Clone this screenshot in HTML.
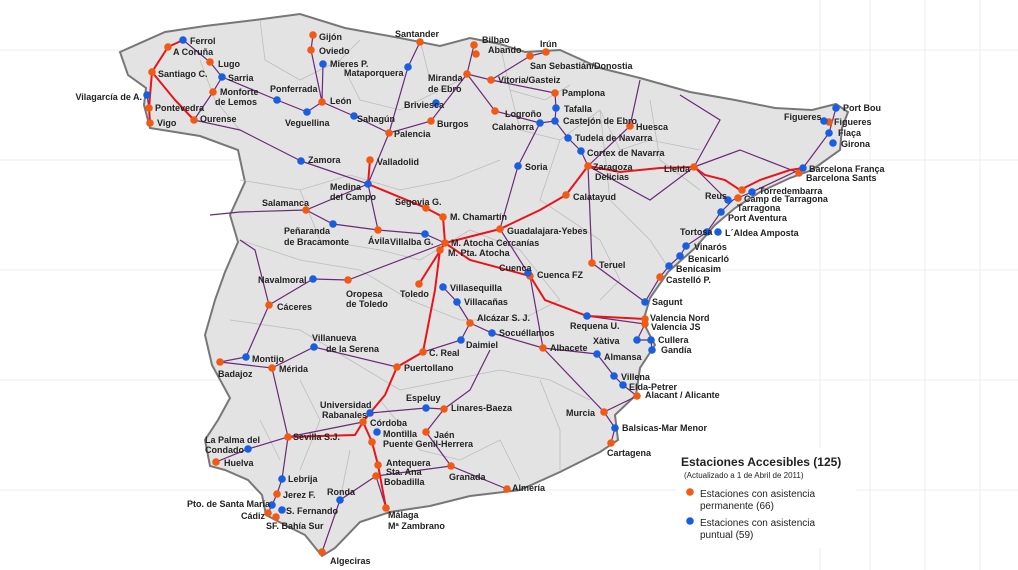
<!DOCTYPE html>
<html><head><meta charset="utf-8">
<style>
html,body{margin:0;padding:0;background:#fff;}
svg{display:block;}
text{font-family:"Liberation Sans",Arial,sans-serif;font-size:9px;font-weight:bold;fill:#222;}
.o{fill:#f25a14;}
.b{fill:#1a5ee0;}
.r{fill:none;stroke:#e8141c;stroke-width:2;}
.p{fill:none;stroke:#6a2a78;stroke-width:1.2;}
.g{fill:none;stroke:#bdbdbd;stroke-width:0.8;}
</style></head><body>
<svg width="1018" height="570" viewBox="0 0 1018 570" xmlns="http://www.w3.org/2000/svg">
<rect width="1018" height="570" fill="#fff"/>
<g stroke="#ececec" stroke-width="1">
<line x1="870" y1="0" x2="870" y2="570"/><line x1="925" y1="0" x2="925" y2="570"/><line x1="980" y1="0" x2="980" y2="570"/>
<line x1="820" y1="0" x2="820" y2="570"/>
<line x1="0" y1="50" x2="1018" y2="50"/><line x1="0" y1="160" x2="1018" y2="160"/><line x1="0" y1="270" x2="1018" y2="270"/><line x1="0" y1="380" x2="1018" y2="380"/><line x1="0" y1="490" x2="1018" y2="490"/>
</g>
<path d="M120,52 L165,32 L205,26 L255,20 L300,14 L345,28 L400,38 L440,46 L470,38 L500,44 L525,52 L560,50 L600,68 L640,78 L690,92 L735,100 L775,108 L812,110 L836,104 L848,112 L842,128 L840,150 L812,170 L790,178 L760,192 L735,208 L715,225 L695,248 L668,272 L650,298 L643,322 L655,345 L640,368 L636,395 L615,415 L618,440 L600,452 L560,472 L520,490 L470,496 L430,506 L390,512 L360,522 L335,548 L322,556 L305,535 L285,525 L266,515 L262,495 L248,480 L225,470 L210,466 L205,440 L218,420 L230,398 L212,365 L205,335 L215,300 L225,272 L238,242 L230,215 L245,182 L238,150 L200,136 L150,128 L144,105 L146,88 L128,75 Z" fill="#e3e3e3" stroke="#777" stroke-width="2"/>
<g class="g">
<path d="M200,60 L215,100 L240,130 M260,20 L265,60 L300,80 L340,60 L360,40 M340,60 L360,100 L400,110 L440,90 L470,75 M420,40 L430,80 M500,44 L510,90 L545,100 L570,85 M510,90 L520,130 L560,140 L600,110 L620,150 L650,140 L700,150 M650,100 L660,160 L700,190 M600,110 L610,200 L650,240 L670,270 M560,140 L540,200 L600,240 L620,280 L600,300 M240,180 L300,190 L350,175 L400,190 L450,180 L500,160 M300,190 L320,240 L380,250 L420,260 M240,240 L300,260 L360,270 L410,300 L460,320 L520,320 L560,300 M230,320 L300,330 L350,360 L400,390 L450,380 L500,370 L550,380 L590,400 M420,260 L470,230 L520,250 L560,300 M300,380 L320,420 L300,470 M380,400 L420,450 L460,460 L500,440 L520,480 M540,380 L560,430 L560,470 M350,450 L340,500 M260,420 L280,460"/>
</g>
<g class="p">
<path d="M183,40 L210,62 L222,77 L213,92 L194,120"/>
<path d="M222,77 L277,100 L307,112 L322,102 L354,116 L389,133 L431,121 L467,74 L474,45"/>
<path d="M322,102 L311,50 L313,35 M322,102 L323,64"/>
<path d="M408,67 L389,133 M420,42 L408,67"/>
<path d="M467,74 L491,80 L530,56 L546,52 M491,80 L555,93 L556,108 L555,121 L540,123 L495,111 L467,74"/>
<path d="M555,121 L568,138 L581,151 L588,166 M588,166 L630,126 M588,166 L650,200 L694,167 L726,199"/>
<path d="M518,166 L540,123 M518,166 L500,229"/>
<path d="M588,166 L592,263 L645,302 L660,277 L669,266 L680,256 L686,246 L707,232 L721,212 L733,200 L752,192 L803,168 L829,133 L836,108"/>
<path d="M694,167 L740,150 L799,173 M694,167 L720,120 L680,95 M630,126 L640,80"/>
<path d="M301,161 L368,184 L389,133 M368,184 L306,210 L240,212 M368,184 L378,230 L425,234 L445,243 M368,184 L426,208"/>
<path d="M306,210 L333,224 L378,230"/>
<path d="M445,243 L348,280 L313,279 L269,305 L246,357 L220,362 M269,305 L255,250 L240,240"/>
<path d="M220,362 L272,368 L314,347 L397,367 L423,352 L461,340 L470,323 L492,333 L543,348 L597,354 L614,376 L623,385 L637,396 L604,412 L615,428 L611,443"/>
<path d="M543,348 L604,412 M543,348 L530,276 L500,229"/>
<path d="M587,316 L645,324 L637,340 L651,340 L652,350"/>
<path d="M272,368 L288,437 L248,449 L216,462 M288,437 L282,479 L277,494 L272,505 L268,513"/>
<path d="M370,413 L426,408 L444,409 L470,390 L490,350 M444,409 L426,432 L451,466 L507,489 M451,466 L376,476"/>
<path d="M363,422 L288,437 M376,476 L340,500 L322,552 M376,476 L386,508"/>
<path d="M443,287 L457,302 L470,323"/>
<path d="M194,120 L240,130 L301,161 M150,123 L149,108 L147,95"/>
<path d="M210,215 L240,212"/>
</g>
<g class="r">
<path d="M183,40 L168,47 L152,72 L149,108 L150,123"/>
<path d="M152,72 L175,100 L194,120"/>
<path d="M370,160 L368,184 L426,208 L443,217 L445,243"/>
<path d="M445,243 L500,229 L540,210 L566,195 L588,166 L620,172 L660,168 L694,167 L705,175 L725,180 L740,190 L760,180 L790,170 L803,168"/>
<path d="M445,243 L440,250 L435,290 L423,352 L397,367 L385,395 L370,413 L363,422 L355,435 L288,437"/>
<path d="M363,422 L372,442 L378,465 L386,508"/>
<path d="M445,243 L419,284"/>
<path d="M445,243 L470,260 L530,276 L545,300 L587,316 L645,319"/>
</g>
<g class="o">
<circle cx="168" cy="47" r="3.8"/><circle cx="210" cy="62" r="3.8"/><circle cx="152" cy="72" r="3.8"/><circle cx="149" cy="108" r="3.8"/><circle cx="213" cy="92" r="3.8"/><circle cx="150" cy="123" r="3.8"/><circle cx="194" cy="120" r="3.8"/>
<circle cx="313" cy="35" r="3.8"/><circle cx="311" cy="50" r="3.8"/><circle cx="322" cy="102" r="3.8"/><circle cx="420" cy="42" r="3.8"/><circle cx="474" cy="45" r="3.8"/><circle cx="476" cy="54" r="3.8"/><circle cx="546" cy="52" r="3.8"/><circle cx="530" cy="56" r="3.8"/>
<circle cx="467" cy="74" r="3.8"/><circle cx="491" cy="80" r="3.8"/><circle cx="495" cy="111" r="3.8"/><circle cx="555" cy="93" r="3.8"/><circle cx="389" cy="133" r="3.8"/><circle cx="431" cy="121" r="3.8"/><circle cx="630" cy="126" r="3.8"/><circle cx="588" cy="166" r="3.8"/><circle cx="694" cy="167" r="3.8"/><circle cx="566" cy="195" r="3.8"/>
<circle cx="370" cy="160" r="3.8"/><circle cx="306" cy="210" r="3.8"/><circle cx="426" cy="208" r="3.8"/><circle cx="443" cy="217" r="3.8"/><circle cx="378" cy="230" r="3.8"/><circle cx="445" cy="243" r="3.8"/><circle cx="440" cy="250" r="3.8"/><circle cx="500" cy="229" r="3.8"/>
<circle cx="348" cy="280" r="3.8"/><circle cx="419" cy="284" r="3.8"/><circle cx="530" cy="276" r="3.8"/><circle cx="592" cy="263" r="3.8"/><circle cx="269" cy="305" r="3.8"/><circle cx="470" cy="323" r="3.8"/><circle cx="645" cy="319" r="3.8"/><circle cx="645" cy="324" r="3.8"/><circle cx="543" cy="348" r="3.8"/>
<circle cx="423" cy="352" r="3.8"/><circle cx="220" cy="362" r="3.8"/><circle cx="272" cy="368" r="3.8"/><circle cx="397" cy="367" r="3.8"/><circle cx="637" cy="396" r="3.8"/>
<circle cx="660" cy="277" r="3.8"/><circle cx="742" cy="190" r="3.8"/><circle cx="738" cy="198" r="3.8"/><circle cx="799" cy="173" r="3.8"/><circle cx="829" cy="122" r="3.8"/>
<circle cx="363" cy="422" r="3.8"/><circle cx="372" cy="442" r="3.8"/><circle cx="444" cy="409" r="3.8"/><circle cx="426" cy="432" r="3.8"/><circle cx="288" cy="437" r="3.8"/><circle cx="216" cy="462" r="3.8"/><circle cx="378" cy="465" r="3.8"/><circle cx="376" cy="476" r="3.8"/><circle cx="451" cy="466" r="3.8"/><circle cx="507" cy="489" r="3.8"/><circle cx="604" cy="412" r="3.8"/><circle cx="611" cy="443" r="3.8"/>
<circle cx="277" cy="494" r="3.8"/><circle cx="268" cy="513" r="3.8"/><circle cx="276" cy="517" r="3.8"/><circle cx="386" cy="508" r="3.8"/><circle cx="322" cy="552" r="3.8"/>
</g>
<g class="b">
<circle cx="183" cy="40" r="3.8"/><circle cx="222" cy="77" r="3.8"/><circle cx="147" cy="95" r="3.8"/><circle cx="323" cy="64" r="3.8"/><circle cx="277" cy="100" r="3.8"/><circle cx="307" cy="112" r="3.8"/><circle cx="354" cy="116" r="3.8"/><circle cx="408" cy="67" r="3.8"/>
<circle cx="436" cy="103" r="3.8"/><circle cx="556" cy="108" r="3.8"/><circle cx="555" cy="121" r="3.8"/><circle cx="540" cy="123" r="3.8"/><circle cx="568" cy="138" r="3.8"/><circle cx="581" cy="151" r="3.8"/><circle cx="518" cy="166" r="3.8"/>
<circle cx="301" cy="161" r="3.8"/><circle cx="368" cy="184" r="3.8"/><circle cx="333" cy="224" r="3.8"/><circle cx="425" cy="234" r="3.8"/><circle cx="313" cy="279" r="3.8"/><circle cx="443" cy="287" r="3.8"/><circle cx="457" cy="302" r="3.8"/><circle cx="528" cy="273" r="3.8"/>
<circle cx="314" cy="347" r="3.8"/><circle cx="492" cy="333" r="3.8"/><circle cx="587" cy="316" r="3.8"/><circle cx="645" cy="302" r="3.8"/><circle cx="461" cy="340" r="3.8"/><circle cx="637" cy="340" r="3.8"/><circle cx="651" cy="340" r="3.8"/><circle cx="652" cy="350" r="3.8"/><circle cx="597" cy="354" r="3.8"/><circle cx="246" cy="357" r="3.8"/><circle cx="614" cy="376" r="3.8"/><circle cx="623" cy="385" r="3.8"/>
<circle cx="707" cy="232" r="3.8"/><circle cx="718" cy="232" r="3.8"/><circle cx="686" cy="246" r="3.8"/><circle cx="680" cy="256" r="3.8"/><circle cx="669" cy="266" r="3.8"/><circle cx="721" cy="212" r="3.8"/><circle cx="752" cy="192" r="3.8"/><circle cx="728" cy="200" r="3.8"/><circle cx="803" cy="168" r="3.8"/>
<circle cx="836" cy="108" r="3.8"/><circle cx="824" cy="121" r="3.8"/><circle cx="829" cy="133" r="3.8"/><circle cx="833" cy="143" r="3.8"/>
<circle cx="370" cy="413" r="3.8"/><circle cx="377" cy="432" r="3.8"/><circle cx="426" cy="408" r="3.8"/><circle cx="248" cy="449" r="3.8"/><circle cx="615" cy="428" r="3.8"/><circle cx="282" cy="479" r="3.8"/><circle cx="340" cy="500" r="3.8"/><circle cx="272" cy="505" r="3.8"/><circle cx="282" cy="510" r="3.8"/>
</g>
<g>
<text x="190" y="44">Ferrol</text><text x="173" y="55">A Coruña</text><text x="218" y="67">Lugo</text><text x="158" y="77">Santiago C.</text><text x="228" y="81">Sarria</text>
<text x="142" y="100" text-anchor="end">Vilagarcía de A.</text><text x="155" y="111">Pontevedra</text><text x="220" y="95">Monforte</text><text x="215" y="105">de Lemos</text><text x="157" y="126">Vigo</text><text x="200" y="122">Ourense</text>
<text x="319" y="40">Gijón</text><text x="319" y="54">Oviedo</text><text x="330" y="67">Mieres P.</text><text x="270" y="92">Ponferrada</text><text x="330" y="104">León</text><text x="285" y="126">Veguellina</text><text x="357" y="122">Sahagún</text>
<text x="395" y="37">Santander</text><text x="344" y="76">Mataporquera</text><text x="482" y="43">Bilbao</text><text x="488" y="53">Abando</text><text x="540" y="47">Irún</text><text x="530" y="69">San Sebastián/Donostia</text>
<text x="428" y="81">Miranda</text><text x="428" y="92">de Ebro</text><text x="498" y="83">Vitoria/Gasteiz</text><text x="404" y="108">Briviesca</text><text x="505" y="117">Logroño</text><text x="562" y="96">Pamplona</text><text x="564" y="112">Tafalla</text><text x="563" y="124">Castejón de Ebro</text><text x="492" y="130">Calahorra</text>
<text x="394" y="137">Palencia</text><text x="437" y="127">Burgos</text><text x="575" y="141">Tudela de Navarra</text><text x="636" y="130">Huesca</text><text x="587" y="156">Cortex de Navarra</text><text x="593" y="170">Zaragoza</text><text x="595" y="180">Delicias</text><text x="664" y="172">Lleida</text><text x="525" y="170">Soria</text><text x="573" y="200">Calatayud</text>
<text x="308" y="163">Zamora</text><text x="377" y="165">Valladolid</text><text x="330" y="190">Medina</text><text x="330" y="200">del Campo</text><text x="262" y="206">Salamanca</text><text x="284" y="234">Peñaranda</text><text x="284" y="245">de Bracamonte</text>
<text x="395" y="205">Segovia G.</text><text x="450" y="220">M. Chamartín</text><text x="368" y="244">Ávila</text><text x="390" y="245">Villalba G.</text><text x="451" y="246">M. Atocha Cercanías</text><text x="448" y="256">M. Pta. Atocha</text><text x="507" y="234">Guadalajara-Yebes</text>
<text x="258" y="283">Navalmoral</text><text x="346" y="297">Oropesa</text><text x="346" y="307">de Toledo</text><text x="400" y="297">Toledo</text><text x="450" y="291">Villasequilla</text><text x="464" y="305">Villacañas</text><text x="499" y="271">Cuenca</text><text x="537" y="278">Cuenca FZ</text><text x="599" y="268">Teruel</text>
<text x="277" y="310">Cáceres</text><text x="312" y="341">Villanueva</text><text x="326" y="352">de la Serena</text><text x="477" y="321">Alcázar S. J.</text><text x="499" y="336">Socuéllamos</text><text x="570" y="329">Requena U.</text><text x="650" y="321">Valencia Nord</text><text x="651" y="330">Valencia JS</text><text x="652" y="305">Sagunt</text>
<text x="466" y="348">Daimiel</text><text x="550" y="351">Albacete</text><text x="593" y="344">Xàtiva</text><text x="658" y="343">Cullera</text><text x="661" y="353">Gandía</text><text x="604" y="360">Almansa</text><text x="429" y="356">C. Real</text><text x="252" y="362">Montijo</text><text x="218" y="377">Badajoz</text><text x="279" y="372">Mérida</text><text x="404" y="371">Puertollano</text>
<text x="621" y="380">Villena</text><text x="629" y="390">Elda-Petrer</text><text x="645" y="398">Alacant / Alicante</text>
<text x="680" y="235">Tortosa</text><text x="725" y="236">L´Aldea Amposta</text><text x="694" y="250">Vinarós</text><text x="688" y="262">Benicarló</text><text x="676" y="272">Benicasim</text><text x="666" y="283">Castelló P.</text><text x="728" y="221">Port Aventura</text><text x="737" y="211">Tarragona</text><text x="744" y="202">Camp de Tarragona</text><text x="759" y="194">Torredembarra</text><text x="705" y="199">Reus</text>
<text x="809" y="172">Barcelona França</text><text x="806" y="181">Barcelona Sants</text><text x="784" y="120">Figueres</text><text x="834" y="125">Figueres</text><text x="843" y="111">Port Bou</text><text x="838" y="136">Flaça</text><text x="841" y="147">Girona</text>
<text x="320" y="408">Universidad</text><text x="322" y="418">Rabanales</text><text x="370" y="426">Córdoba</text><text x="383" y="437">Montilla</text><text x="383" y="447">Puente Genil-Herrera</text><text x="406" y="401">Espeluy</text><text x="451" y="411">Linares-Baeza</text><text x="434" y="438">Jaén</text>
<text x="293" y="440">Sevilla S.J.</text><text x="205" y="443">La Palma del</text><text x="205" y="453">Condado</text><text x="224" y="466">Huelva</text><text x="386" y="466">Antequera</text><text x="386" y="475">Sta. Ana</text><text x="384" y="485">Bobadilla</text><text x="449" y="480">Granada</text><text x="512" y="491">Almería</text>
<text x="566" y="416">Murcia</text><text x="622" y="431">Balsicas-Mar Menor</text><text x="607" y="456">Cartagena</text>
<text x="288" y="482">Lebrija</text><text x="283" y="498">Jerez F.</text><text x="327" y="495">Ronda</text><text x="187" y="507">Pto. de Santa María</text><text x="286" y="514">S. Fernando</text><text x="241" y="519">Cádiz</text><text x="266" y="529">SF. Bahía Sur</text><text x="388" y="518">Málaga</text><text x="388" y="529">Mª Zambrano</text><text x="330" y="564">Algeciras</text>
</g>
<rect x="676" y="448" width="180" height="100" fill="#fff"/>
<text x="681" y="466" style="font-size:12px">Estaciones Accesibles (125)</text>
<text x="684" y="478" style="font-size:8px;font-weight:normal">(Actualizado a 1 de Abril de 2011)</text>
<circle class="o" cx="690" cy="492" r="3.8"/>
<text x="700" y="497" style="font-size:10px;font-weight:normal">Estaciones con asistencia</text>
<text x="700" y="509" style="font-size:10px;font-weight:normal">permanente (66)</text>
<circle class="b" cx="690" cy="521" r="3.8"/>
<text x="700" y="526" style="font-size:10px;font-weight:normal">Estaciones con asistencia</text>
<text x="700" y="538" style="font-size:10px;font-weight:normal">puntual (59)</text>
</svg>
</body></html>
